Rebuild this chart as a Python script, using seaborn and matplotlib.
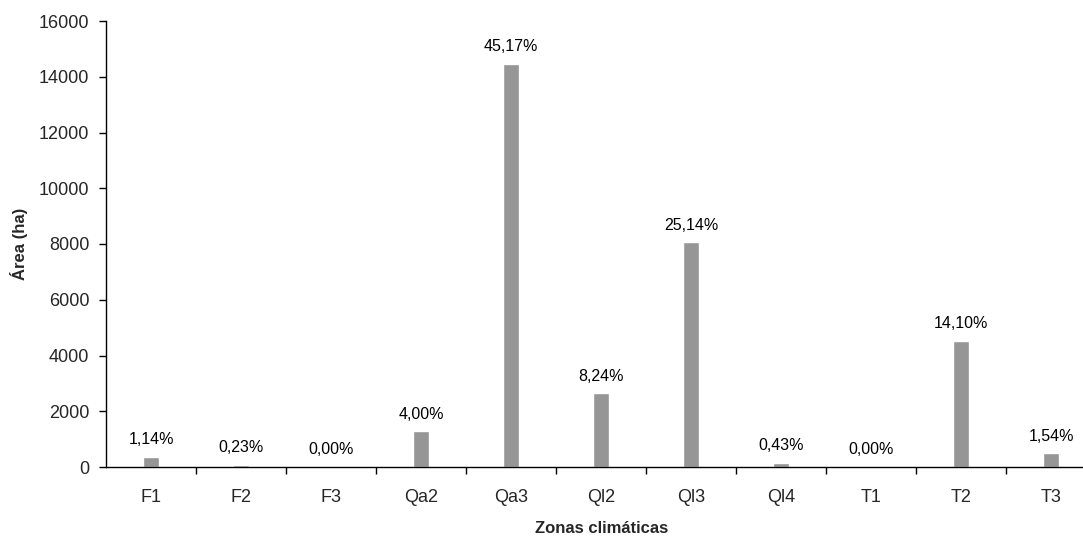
import matplotlib
matplotlib.use("Agg")
import matplotlib.pyplot as plt
import seaborn as sns
import pandas as pd

# data
zonas = ["F1", "F2", "F3", "Qa2", "Qa3", "Ql2", "Ql3", "Ql4", "T1", "T2", "T3"]
area_ha = [365, 74, 0, 1281, 14470, 2640, 8054, 138, 0, 4517, 493]
pct = [1.14, 0.23, 0.00, 4.00, 45.17, 8.24, 25.14, 0.43, 0.00, 14.10, 1.54]
y_ticks = [0, 2000, 4000, 6000, 8000, 10000, 12000, 14000, 16000]

df = pd.DataFrame({"zona": zonas, "area": area_ha, "pct": pct})

sns.set_style("white")
plt.rcParams["font.family"] = ["Liberation Sans", "DejaVu Sans"]

fig = plt.figure(figsize=(10.83, 5.36), dpi=100)
ax = fig.add_axes([106 / 1083, 1 - 467 / 536, 990 / 1083, 446 / 536])

sns.barplot(data=df, x="zona", y="area", color="#969696", width=0.17,
            saturation=1, ax=ax)

for i, row in df.iterrows():
    ax.annotate(f"{row['pct']:.2f}%".replace(".", ","), (i, row["area"]),
                xytext=(0, 7), textcoords="offset points",
                ha="center", va="bottom", fontsize=11.5, color="#000000")

ax.set_xlim(-0.5, len(zonas) - 0.5)
ax.set_ylim(0, 16000)
ax.set_yticks(y_ticks)
ax.set_yticklabels([str(t) for t in y_ticks], fontsize=13)

# x ticks sit on the category boundaries, labels at the centres
ax.set_xticks([i + 0.5 for i in range(len(zonas) - 1)])
ax.set_xticklabels([])
ax.set_xticks(range(len(zonas)), minor=True)
ax.set_xticklabels(zonas, minor=True, fontsize=13)
ax.tick_params(axis="x", which="major", bottom=True, direction="out",
               length=5, width=1, color="black")
ax.tick_params(axis="x", which="minor", bottom=False, length=0, pad=16)
ax.tick_params(axis="y", left=True, direction="out", length=5, width=1,
               color="black", pad=7)

for side in ["top", "right"]:
    ax.spines[side].set_visible(False)
for side in ["left", "bottom"]:
    ax.spines[side].set_color("black")
    ax.spines[side].set_linewidth(1)

ax.set_xlabel("Zonas climáticas", fontsize=12, fontweight="bold")
ax.xaxis.set_label_coords(0.501, -0.137)
ax.xaxis.label.set_va("center")
ax.set_ylabel("Área (ha)", fontsize=12, fontweight="bold", labelpad=8)

fig.savefig("out.png", dpi=100)
